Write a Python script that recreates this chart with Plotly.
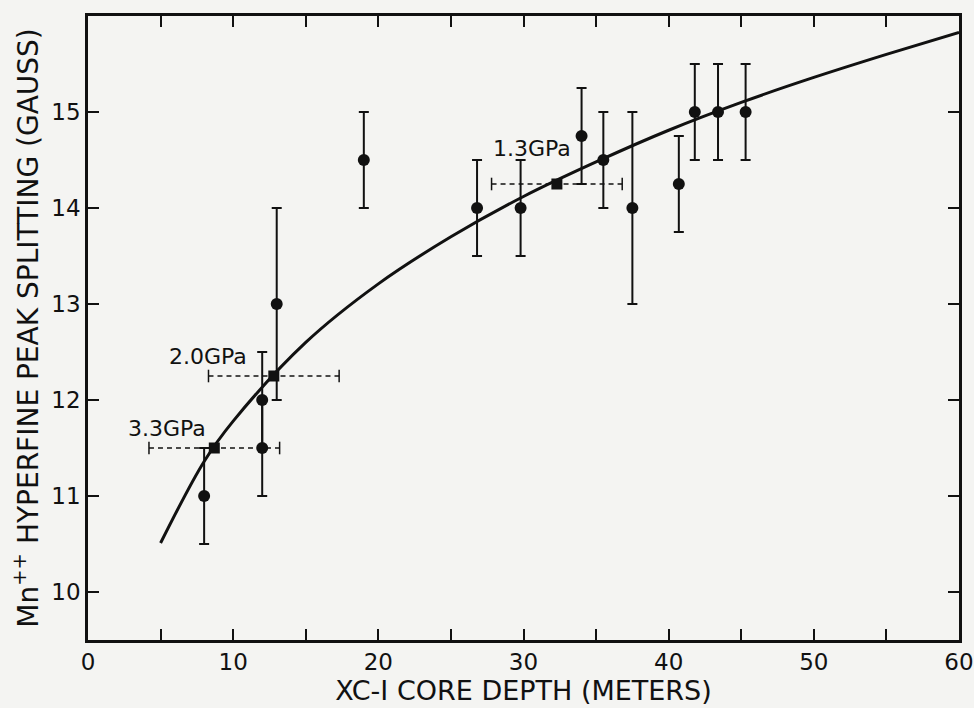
import plotly.graph_objects as go

# ---- data ----
depth = [8.0, 12.0, 12.0, 13.0, 19.0, 26.8, 29.8, 34.0, 35.5, 37.5, 40.7, 41.8, 43.4, 45.3]
splitting = [11.0, 11.5, 12.0, 13.0, 14.5, 14.0, 14.0, 14.75, 14.5, 14.0, 14.25, 15.0, 15.0, 15.0]
splitting_err = [0.5, 0.5, 0.5, 1.0, 0.5, 0.5, 0.5, 0.5, 0.5, 1.0, 0.5, 0.5, 0.5, 0.5]

gpa_depth = [8.7, 12.8, 32.3]
gpa_split = [11.5, 12.25, 14.25]
gpa_depth_err = [4.5, 4.5, 4.5]
gpa_labels = ["3.3GPa", "2.0GPa", "1.3GPa"]
gpa_label_x = [8.3, 11.1, 33.4]
gpa_label_y = [11.7, 12.45, 14.62]

curve_x = [5, 8, 10, 15, 20, 25, 30, 35, 40, 45, 50, 55, 60]
curve_y = [10.51, 11.36, 11.78, 12.60, 13.21, 13.70, 14.12, 14.48, 14.81, 15.10, 15.36, 15.60, 15.83]

x_tickvals = [0, 10, 20, 30, 40, 50, 60]
x_ticktext = ["0", "10", "20", "30", "40", "50", "60"]
y_tickvals = [10, 11, 12, 13, 14, 15]

BG = "#f4f4f2"
INK = "#111111"
FONT = "DejaVu Sans"

fig = go.Figure()

# fitted curve
fig.add_trace(go.Scatter(x=curve_x, y=curve_y, mode="lines",
                         line=dict(color=INK, width=3, shape="spline", smoothing=1.0),
                         hoverinfo="skip", showlegend=False))

# dashed horizontal error bars for GPa points
for gx, gy, ge in zip(gpa_depth, gpa_split, gpa_depth_err):
    fig.add_trace(go.Scatter(x=[gx - ge, gx + ge], y=[gy, gy], mode="lines+markers",
                             line=dict(color=INK, width=1.5, dash="5px,4px"),
                             marker=dict(symbol="line-ns", size=9,
                                         line=dict(color=INK, width=1.5)),
                             hoverinfo="skip", showlegend=False))

# data points with vertical error bars
fig.add_trace(go.Scatter(x=depth, y=splitting, mode="markers",
                         marker=dict(symbol="circle", size=12, color=INK),
                         error_y=dict(type="data", array=splitting_err, visible=True,
                                      color=INK, thickness=2, width=5),
                         showlegend=False))

# GPa squares
fig.add_trace(go.Scatter(x=gpa_depth, y=gpa_split, mode="markers",
                         marker=dict(symbol="square", size=11, color=INK),
                         showlegend=False))

for lx, ly, lt in zip(gpa_label_x, gpa_label_y, gpa_labels):
    fig.add_annotation(x=lx, y=ly, text=lt, showarrow=False, xanchor="right",
                       yanchor="middle", font=dict(family=FONT, size=22, color=INK))

axis_common = dict(showline=True, linecolor=INK, linewidth=2.5, mirror="allticks",
                   ticks="inside", ticklen=11, tickwidth=2, tickcolor=INK,
                   showgrid=False, zeroline=False,
                   tickfont=dict(family=FONT, size=23, color=INK))

fig.update_xaxes(range=[0, 60], tickmode="array", tickvals=x_tickvals, ticktext=x_ticktext,
                 minor=dict(dtick=5, ticks="inside", ticklen=11, tickwidth=2, tickcolor=INK,
                            showgrid=False),
                 title=dict(text="XC-I CORE DEPTH (METERS)", font=dict(family=FONT, size=27, color=INK),
                            standoff=0),
                 ticklabelstandoff=0, ticklabeloverflow="allow",
                 **axis_common)
fig.update_yaxes(range=[9.5, 16.0], tickmode="array", tickvals=y_tickvals,
                 title=dict(text="Mn<sup>++</sup> HYPERFINE PEAK SPLITTING (GAUSS)",
                            font=dict(family=FONT, size=28, color=INK), standoff=5),
                 ticklabelstandoff=0,
                 **axis_common)

fig.update_layout(width=974, height=708, paper_bgcolor=BG, plot_bgcolor=BG,
                  margin=dict(l=88, r=15, t=16, b=68, autoexpand=False),
                  showlegend=False)

fig.write_html("out.html")
